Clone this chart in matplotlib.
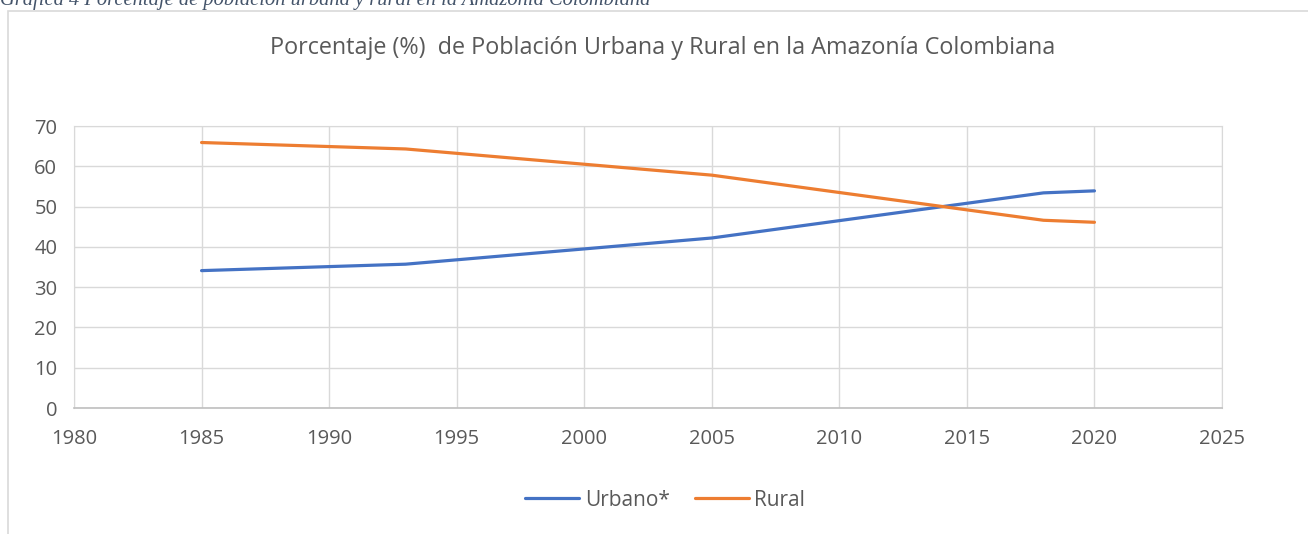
import matplotlib
matplotlib.use("Agg")
import matplotlib.pyplot as plt
from matplotlib.patches import Rectangle

plt.rcParams['font.family'] = ['Open Sans', 'DejaVu Sans']

years = [1985, 1993, 2005, 2018, 2020]
urbano = [34.1, 35.7, 42.2, 53.4, 53.9]
rural = [65.9, 64.3, 57.8, 46.6, 46.1]

x_ticks = [1980, 1985, 1990, 1995, 2000, 2005, 2010, 2015, 2020, 2025]
y_ticks = [0, 10, 20, 30, 40, 50, 60, 70]

grey = "#595959"
grid = "#D9D9D9"

fig = plt.figure(figsize=(13.08, 5.34), dpi=100)

# chart frame (runs off the bottom and right of the image)
fig.patches.append(Rectangle((8 / 1308, -0.1), 1.2, (534 - 11) / 534 + 0.1,
                             transform=fig.transFigure, fill=False,
                             edgecolor="#D9D9D9", linewidth=1.2))

# caption above the chart, cut by the image edge as in the source
fig.text(0.0, 1.0, "Gráfica 4 Porcentaje de población urbana y rural en la Amazonía Colombiana",
         ha="left", va="center", fontsize=14.8, style="italic",
         family="Liberation Serif", color="#44546A")

ax = fig.add_axes([74 / 1308, (534 - 408) / 534, 1148 / 1308, 282 / 534])
ax.plot(years, urbano, color="#4472C4", linewidth=2.3, label="Urbano*",
        solid_capstyle="round")
ax.plot(years, rural, color="#ED7D31", linewidth=2.3, label="Rural",
        solid_capstyle="round")

ax.set_xlim(1980, 2025)
ax.set_ylim(0, 70)
ax.set_xticks(x_ticks)
ax.set_yticks(y_ticks)
ax.grid(True, color=grid, linewidth=1)
ax.set_axisbelow(True)
for s in ["top", "right", "left"]:
    ax.spines[s].set_color(grid)
ax.spines["bottom"].set_color("#BFBFBF")
ax.spines["bottom"].set_linewidth(1.2)
ax.tick_params(length=0, colors=grey, labelsize=14.5)
ax.tick_params(axis="y", pad=12)
ax.tick_params(axis="x", pad=15)

fig.text(663 / 1308, 1 - 48 / 534,
         "Porcentaje (%)  de Población Urbana y Rural en la Amazonía Colombiana",
         ha="center", va="center", fontsize=16.8, color=grey)

fig.legend(loc="center", bbox_to_anchor=(665 / 1308, 1 - 500 / 534), ncol=2,
           frameon=False, fontsize=15, labelcolor=grey, handlelength=2.6,
           handletextpad=0.25, columnspacing=1.2)

fig.savefig("out.png", dpi=100)
